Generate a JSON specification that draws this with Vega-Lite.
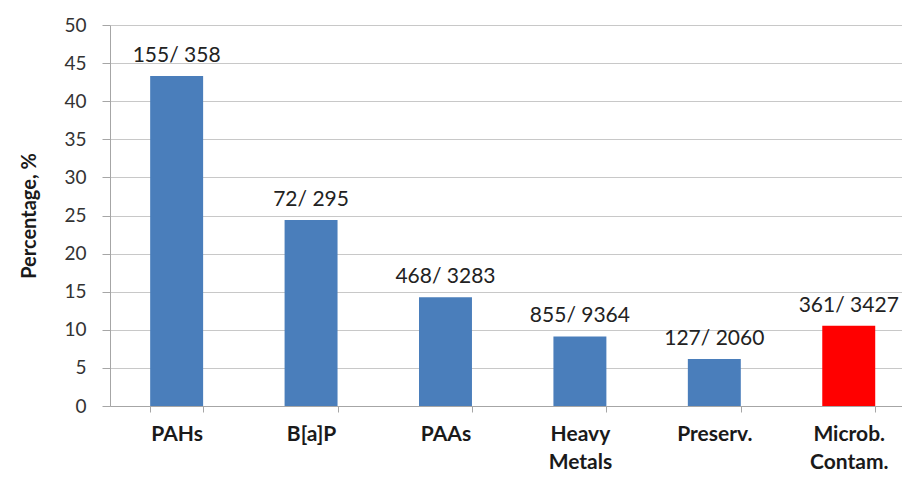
{
  "$schema": "https://vega.github.io/schema/vega-lite/v6.json",
  "width": 792,
  "height": 381,
  "autosize": "none",
  "padding": {"left": 110, "top": 25, "right": 0, "bottom": 75},
  "background": "white",
  "config": {"view": {"stroke": null}, "font": "Lato"},
  "data": {"values": [
    {"cat": "PAHs", "pct": 43.3, "label": "155/ 358", "grp": "a"},
    {"cat": "B[a]P", "pct": 24.4, "label": "72/ 295", "grp": "a"},
    {"cat": "PAAs", "pct": 14.26, "label": "468/ 3283", "grp": "a"},
    {"cat": "Heavy Metals", "pct": 9.13, "label": "855/ 9364", "grp": "a"},
    {"cat": "Preserv.", "pct": 6.17, "label": "127/ 2060", "grp": "a"},
    {"cat": "Microb. Contam.", "pct": 10.53, "label": "361/ 3427", "grp": "b"}
  ]},
  "encoding": {
    "x": {"field": "cat", "type": "nominal", "sort": null,
      "scale": {"paddingInner": 0.606, "paddingOuter": 0.249, "align": 0.6},
      "axis": {"title": null, "labelAngle": 0, "labelFont": "Lato", "labelFontWeight": "bold", "labelFontSize": 21, "labelColor": "#1a1a1a",
        "labelExpr": "split(datum.label, ' ')", "labelLineHeight": 28, "labelPadding": 11, "labelBaseline": "top",
        "domainColor": "#a6a6a6", "tickColor": "#a6a6a6", "tickSize": 6, "tickBand": "extent", "grid": false}},
    "y": {"field": "pct", "type": "quantitative",
      "scale": {"domain": [0, 50], "nice": false},
      "axis": {"title": "Percentage, %", "titleFont": "Lato", "titleFontSize": 20, "titleFontWeight": "bold", "titleColor": "#1a1a1a", "titlePadding": 24,
        "values": [0,5,10,15,20,25,30,35,40,45,50], "labelFontSize": 19, "labelColor": "#333333", "labelPadding": 16,
        "domainColor": "#a6a6a6", "tickColor": "#a6a6a6", "tickSize": 8, "gridColor": "#c8c8c8", "gridWidth": 1}}
  },
  "layer": [
    {"mark": {"type": "bar"},
      "encoding": {"color": {"field": "grp", "type": "nominal", "scale": {"domain": ["a","b"], "range": ["#4a7ebb", "#ff0000"]}, "legend": null}}},
    {"mark": {"type": "text", "dy": -14, "baseline": "alphabetic", "fontSize": 21, "color": "#222222", "font": "Lato"},
      "encoding": {"text": {"field": "label"}}}
  ]
}
